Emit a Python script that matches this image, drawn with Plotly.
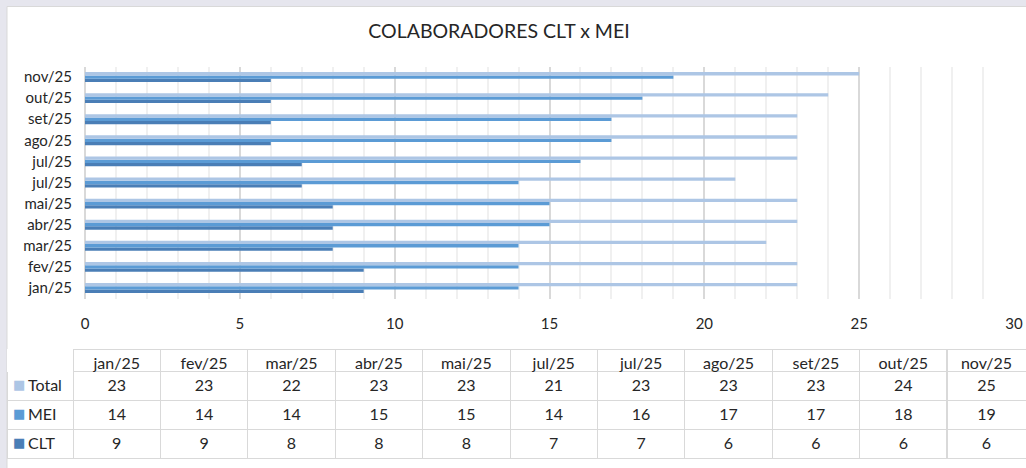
import plotly.graph_objects as go

# ---- data ----
categories = ["jan/25", "fev/25", "mar/25", "abr/25", "mai/25", "jul/25",
              "jul/25", "ago/25", "set/25", "out/25", "nov/25"]
total = [23, 23, 22, 23, 23, 21, 23, 23, 23, 24, 25]
mei = [14, 14, 14, 15, 15, 14, 16, 17, 17, 18, 19]
clt = [9, 9, 8, 8, 8, 7, 7, 6, 6, 6, 6]
series_names = ["Total", "MEI", "CLT"]
x_ticks = [0, 5, 10, 15, 20, 25, 30]

# ---- styles ----
C_TOTAL = "#adc6e5"
C_MEI = "#5b9bd5"
C_CLT = "#4a7eb6"
FONT = "Lato, 'Open Sans', sans-serif"
TXT = "#262626"
W, H = 1026, 468
CLEAR = "rgba(0,0,0,0)"

idx = list(range(len(categories)))
series_colors = {"Total": C_TOTAL, "MEI": C_MEI, "CLT": C_CLT}

fig = go.Figure()
for name, vals in [("CLT", clt), ("MEI", mei), ("Total", total)]:
    fig.add_trace(go.Bar(x=vals, y=idx, orientation="h", name=name,
                         marker=dict(color=series_colors[name], line=dict(width=0)),
                         xaxis="x", yaxis="y"))

# data table (grid + values)
cols = [[""] * len(series_names)] + [[str(total[i]), str(mei[i]), str(clt[i])] for i in idx]
header_vals = [""] + categories
col_widths = [66] + [87.4] * 10 + [79]
line_cols = ["#ffffff"] + ["#d9d9d9"] * len(categories)
TABLE_Y = [1 - 460 / H, 1 - 349 / H]

fig.add_trace(go.Table(
    domain=dict(x=[7 / W, 1.0], y=TABLE_Y),
    columnwidth=col_widths,
    header=dict(values=header_vals, height=22, align="center",
                fill_color="white", line=dict(color=line_cols, width=1),
                font=dict(family=FONT, size=16, color=TXT)),
    cells=dict(values=cols, height=29,
               align=["left"] + ["center"] * len(categories),
               fill_color="white", line=dict(color="#d9d9d9", width=1),
               font=dict(family=FONT, size=16, color=TXT)),
))

# legend keys (transparent overlay on the label column)
fig.add_trace(go.Table(
    domain=dict(x=[5 / W, 30 / W], y=TABLE_Y),
    header=dict(values=[""], height=22, fill_color=CLEAR,
                line=dict(color=CLEAR, width=0)),
    cells=dict(values=[["■"] * len(series_names)], height=29,
               align="left", fill_color=CLEAR, line=dict(color=CLEAR, width=0),
               font=dict(family="DejaVu Sans", size=13,
                         color=[[series_colors[n] for n in series_names]])),
))

# series labels (transparent overlay on the label column)
fig.add_trace(go.Table(
    domain=dict(x=[20 / W, 73 / W], y=TABLE_Y),
    header=dict(values=[""], height=22, fill_color=CLEAR,
                line=dict(color=CLEAR, width=0)),
    cells=dict(values=[series_names], height=29,
               align="left", fill_color=CLEAR, line=dict(color=CLEAR, width=0),
               font=dict(family=FONT, size=16, color=TXT)),
))

fig.update_layout(
    width=W, height=H, autosize=False,
    margin=dict(l=0, r=0, t=0, b=0, pad=0, autoexpand=False),
    paper_bgcolor="#e6e6ee",
    plot_bgcolor="white",
    showlegend=False,
    barmode="group",
    bargap=0.53,
    bargroupgap=0,
    font=dict(family=FONT, color=TXT),
    title=dict(text="COLABORADORES CLT x MEI", x=499 / W, xanchor="center",
               y=1 - 31 / H, yanchor="middle",
               font=dict(family=FONT, size=19.5, color=TXT)),
    xaxis=dict(domain=[85 / W, 1014 / W], range=[0, 30], tickvals=x_ticks,
               showgrid=True, gridcolor="#d9d9d9", gridwidth=2,
               zeroline=True, zerolinecolor="#d9d9d9", zerolinewidth=2,
               showline=False, ticks="", ticklabelstandoff=14, automargin=False,
               tickfont=dict(family=FONT, size=15, color=TXT),
               minor=dict(dtick=1, showgrid=True, gridcolor="#f0f0f0", gridwidth=2),
               fixedrange=True),
    yaxis=dict(domain=[1 - 298.5 / H, 1 - 66.5 / H], range=[-0.5, 10.5],
               tickvals=idx, ticktext=categories, showgrid=False,
               zeroline=False, showline=False, ticks="", ticklabelstandoff=12,
               automargin=False,
               tickfont=dict(family=FONT, size=15, color=TXT),
               fixedrange=True),
    shapes=[dict(type="rect", xref="paper", yref="paper",
                 x0=7 / W, x1=1.01, y0=-0.01, y1=1 - 6.5 / H,
                 fillcolor="white", line=dict(color="#d9d9d9", width=1),
                 layer="below")],
)

fig.write_html("out.html", config={"displayModeBar": False},
               post_script="document.body.style.margin='0';document.body.style.overflow='hidden';")
